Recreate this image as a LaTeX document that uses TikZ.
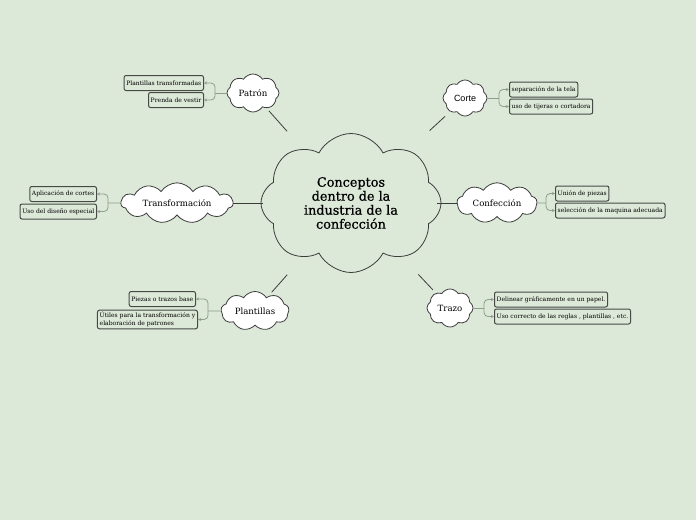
\documentclass[tikz,border=0pt]{standalone}
\usepackage{fontspec}
\setmainfont{DejaVu Serif}
\newfontfamily\cortefont{Liberation Sans}
\newfontfamily\centralfont[FakeBold=0.7]{DejaVu Serif}
\newfontfamily\cloudfont{DejaVu Serif}
\usetikzlibrary{shapes.symbols,arrows.meta}
\definecolor{bg}{HTML}{DCE8D8}
\definecolor{edge}{HTML}{3C3C3C}
\definecolor{branch}{HTML}{8E9E8E}
\definecolor{boxline}{HTML}{454A45}
\tikzset{
  x=1pt, y=-1pt,
  bigcloud/.style={cloud, cloud puffs=8, cloud puff arc=125, draw=edge, line width=0.8pt, fill=bg, inner sep=0pt, align=center, font=\centralfont\fontsize{12.8}{14}\selectfont},
  smallcloud/.style={cloud, cloud puffs=8, cloud puff arc=115, draw=edge, line width=0.8pt, fill=white, inner sep=0pt, font=\cloudfont\fontsize{8.6}{10}\selectfont},
  leaf/.style={draw=boxline, line width=1pt, rounded corners=2pt, fill=bg, inner sep=2.2pt, minimum height=15pt, font=\fontsize{6.05}{7.4}\selectfont, align=left},
  mainline/.style={draw=edge, line width=0.8pt},
  twig/.style={draw=branch, line width=0.8pt, rounded corners=4pt},
  twigarrow/.style={twig, -{Stealth[length=3pt,width=3pt]}},
}
\begin{document}
\begin{tikzpicture}
\useasboundingbox[fill=bg] (0,0) rectangle (696,520);

% central
\node[bigcloud, aspect=1.3, minimum width=180pt, minimum height=139pt] (c) at (351,203)
  {Conceptos\\dentro de la\\industria de la\\confección};

% secondary clouds
\node[smallcloud, aspect=1.37, minimum width=52pt, minimum height=38pt] (patron) at (253,93) {Patrón};
\node[smallcloud, aspect=1.22, minimum width=44pt, minimum height=36pt, font=\cortefont\fontsize{9}{11}\selectfont] (corte) at (465,98) {Corte};
\node[smallcloud, cloud puffs=11, aspect=3.7, minimum width=112pt, minimum height=30pt] (transf) at (177,203) {Transformación};
\node[smallcloud, cloud puffs=9, aspect=2.35, minimum width=80pt, minimum height=34pt] (confe) at (497,203) {Confección};
\node[smallcloud, cloud puffs=9, aspect=1.9, minimum width=68pt, minimum height=36pt] (plant) at (255,311) {Plantillas};
\node[smallcloud, aspect=1.2, minimum width=46pt, minimum height=38pt] (trazo) at (450,308) {Trazo};

% main connectors
\draw[mainline, shorten <=96pt, shorten >=24pt] (c.center) -- (patron.center);
\draw[mainline, shorten <=107pt, shorten >=27pt] (c.center) -- (corte.center);
\draw[mainline, shorten <=88pt, shorten >=56pt] (c.center) -- (transf.center);
\draw[mainline, shorten <=86pt, shorten >=40pt] (c.center) -- (confe.center);
\draw[mainline, shorten <=96pt, shorten >=25pt] (c.center) -- (plant.center);
\draw[mainline, shorten <=98pt, shorten >=25pt] (c.center) -- (trazo.center);

% leaves: Patrón
\node[leaf, anchor=east] (p1) at (204,83) {Plantillas transformadas};
\node[leaf, anchor=east] (p2) at (204,100) {Prenda de vestir};
\coordinate (jp) at (215,93);
\draw[twig] (patron.west) -- (jp);
\draw[twigarrow] (jp) |- (p1.east);
\draw[twigarrow] (jp) |- (p2.east);

% leaves: Corte
\node[leaf, anchor=west] (k1) at (509,89.5) {separación de la tela};
\node[leaf, anchor=west] (k2) at (509,106.5) {uso de tijeras o cortadora};
\coordinate (jk) at (499,98);
\draw[twig] (corte.east) -- (jk);
\draw[twigarrow] (jk) |- (k1.west);
\draw[twigarrow] (jk) |- (k2.west);

% leaves: Transformación
\node[leaf, anchor=east] (t1) at (97,194) {Aplicación de cortes};
\node[leaf, anchor=east] (t2) at (97,211.5) {Uso del diseño especial};
\coordinate (jt) at (108,203);
\draw[twig] (transf.west) -- (jt);
\draw[twigarrow] (jt) |- (t1.east);
\draw[twigarrow] (jt) |- (t2.east);

% leaves: Confección
\node[leaf, anchor=west] (f1) at (555,193.5) {Unión de piezas};
\node[leaf, anchor=west] (f2) at (555,210.5) {selección de la maquina adecuada};
\coordinate (jf) at (546,203);
\draw[twig] (confe.east) -- (jf);
\draw[twigarrow] (jf) |- (f1.west);
\draw[twigarrow] (jf) |- (f2.west);

% leaves: Plantillas
\node[leaf, anchor=east] (l1) at (196,299) {Piezas o trazos base};
\node[leaf, anchor=east] (l2) at (198,319.5) {Útiles para la transformación y\\elaboración de patrones};
\coordinate (jl) at (208,311);
\draw[twig] (plant.west) -- (jl);
\draw[twigarrow] (jl) |- (l1.east);
\draw[twigarrow] (jl) |- (l2.east);

% leaves: Trazo
\node[leaf, anchor=west] (z1) at (494,299.5) {Delinear gráficamente en un papel.};
\node[leaf, anchor=west] (z2) at (494,316.5) {Uso correcto de las reglas , plantillas , etc.};
\coordinate (jz) at (484,308);
\draw[twig] (trazo.east) -- (jz);
\draw[twigarrow] (jz) |- (z1.west);
\draw[twigarrow] (jz) |- (z2.west);
\end{tikzpicture}
\end{document}
